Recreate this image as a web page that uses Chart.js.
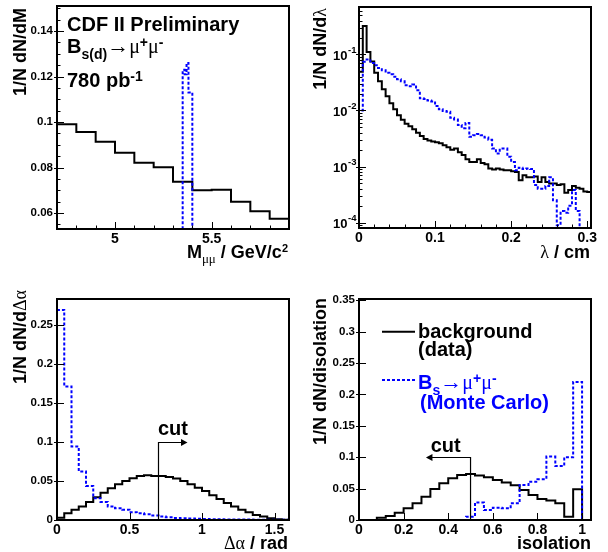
<!DOCTYPE html>
<html><head><meta charset="utf-8">
<script src="https://cdn.jsdelivr.net/npm/chart.js@4"></script>
<style>
body{margin:0;background:#fff}
#wrap{position:relative;width:608px;height:552px;overflow:hidden;background:#fff}
canvas{position:absolute;left:0;top:0}
.t{position:absolute;white-space:nowrap;line-height:1;font-weight:bold;font-family:'Liberation Sans',Arial,Helvetica,sans-serif;color:#000}
.f20{font-size:20px}.f18{font-size:18px}
.g{font-family:'Liberation Serif','DejaVu Serif',serif;font-weight:normal}
.sb{position:relative;top:6px;font-size:14px}
.sp{position:relative;top:-6px;font-size:14px}
.yt{width:220px;text-align:right;transform-origin:0 0;transform:translateY(220px) rotate(-90deg)}
.blue{color:#0000ff}
</style></head>
<body>
<div id="wrap">
<canvas id="c1" width="608" height="552"></canvas>
<canvas id="c2" width="608" height="552"></canvas>
<canvas id="c3" width="608" height="552"></canvas>
<canvas id="c4" width="608" height="552"></canvas>

<div class="t f20" style="left:67px;top:13.6px">CDF II Preliminary</div>
<div class="t f20" style="left:67px;top:34.8px">B<span class="sb">s(d)</span><span class="g" style="font-size:22px">→</span><span class="g">μ</span><span class="sp">+</span><span class="g">μ</span><span class="sp">-</span></div>
<div class="t f20" style="left:67px;top:69.8px">780 pb<span class="sp">-1</span></div>

<div class="t f18" style="right:320px;top:243.1px">M<span class="sb g" style="font-size:13px;top:5px">μμ</span> / GeV/c<span class="sp" style="font-size:11px;top:-6px">2</span></div>
<div class="t f18" style="right:18px;top:242.8px"><span class="g">λ</span> / cm</div>
<div class="t f18" style="right:320px;top:533.8px"><span class="g">Δα</span> / rad</div>
<div class="t f18" style="right:17px;top:533.8px">isolation</div>

<div class="t f18 yt" style="left:10.5px;top:8px">1/N dN/dM</div>
<div class="t f18 yt" style="left:311px;top:8px">1/N dN/d<span class="g">λ</span></div>
<div class="t f18 yt" style="left:11px;top:290px">1/N dN/d<span class="g">Δα</span></div>
<div class="t f18 yt" style="left:311px;top:298px">1/N dN/disolation</div>

<div class="t f20" style="left:418px;top:320.8px">background</div>
<div class="t f20" style="left:418px;top:339px">(data)</div>
<div class="t f20 blue" style="left:418px;top:371.4px">B<span class="sb">s</span><span class="g" style="font-size:22px">→</span><span class="g">μ</span><span class="sp">+</span><span class="g">μ</span><span class="sp">-</span></div>
<div class="t f20 blue" style="left:420px;top:392px">(Monte Carlo)</div>

<div class="t f20" style="left:158px;top:418px">cut</div>
<div class="t f20" style="left:430.7px;top:434.8px">cut</div>
</div>
<script>
// ---------- Panel 1: dimuon mass ----------
const massEdges = [4.7,4.8,4.9,5.0,5.1,5.2,5.3,5.4,5.5,5.6,5.7,5.8,5.9];
const massBackground = [0.0990,0.0956,0.0913,0.0865,0.0821,0.0801,0.0738,0.0700,0.0703,0.0650,0.0608,0.0575];
const massSignalEdges = [5.22,5.23,5.24,5.25,5.26,5.27,5.28,5.29,5.30,5.31,5.32,5.33,5.34,5.35,5.36,5.37,5.38,5.39,5.40,5.41,5.42,5.43,5.44,5.45,5.46,5.47,5.48,5.49];
const massSignal = [0,0,0,0,0,0,0,0,0,0,0,0,0, 0.123,0.121,0.126,0.113,0.113, 0,0,0,0,0,0,0,0,0];
const massXTicks = [5, 5.5];
const massYTicks = [0.06, 0.08, 0.1, 0.12, 0.14];

// ---------- Panel 2: decay length lambda ----------
const lambdaEdges = [0,0.005,0.01,0.015,0.02,0.025,0.03,0.035,0.04,0.045,0.05,0.055,0.06,0.065,0.07,0.075,0.08,0.085,0.09,0.095,0.1,0.105,0.11,0.115,0.12,0.125,0.13,0.135,0.14,0.145,0.15,0.155,0.16,0.165,0.17,0.175,0.18,0.185,0.19,0.195,0.2,0.205,0.21,0.215,0.22,0.225,0.23,0.235,0.24,0.245,0.25,0.255,0.26,0.265,0.27,0.275,0.28,0.285,0.29,0.295,0.3,0.305];
const lambdaBackground = [
 0.049,0.32,0.11,0.075,0.047,0.033,0.024,0.018,0.0135,0.0105,
 0.0082,0.0068,0.0058,0.0052,0.0046,0.0040,0.0035,0.0031,0.0029,0.0028,
 0.0027,0.0026,0.0024,0.0022,0.0020,0.0021,0.0018,0.0016,0.00135,0.0012,
 0.0012,0.00135,0.00116,0.0011,0.00092,0.00088,0.00092,0.00088,0.00086,0.00086,
 0.00082,0.0008,0.00057,0.0007,0.00064,0.00064,0.00066,0.00053,0.00064,0.00053,
 0.0005,0.0005,0.00047,0.00048,0.00034,0.00038,0.00045,0.00042,0.0004,0.00036,0.00035];
const lambdaSignal = [
 0.0100,0.074,0.081,0.070,0.064,0.057,0.052,0.047,0.044,0.040,
 0.036,0.033,0.028,0.027,0.029,0.023,0.0165,0.016,0.015,0.0145,
 0.012,0.0105,0.0098,0.0095,0.0074,0.0069,0.0055,0.0048,0.0060,0.0034,
 0.0036,0.0038,0.0036,0.0033,0.0030,0.0021,0.0017,0.0021,0.0021,0.0015,
 0.0012,0.00086,0.00095,0.0009,0.00092,0.0009,0.00047,0.0004,0.0004,0.00045,
 0.00064,0.00025,0.00009,0.00016,0.00015,0.0002,0.00038,0.00016,0,0,0];
const lambdaXTicks = [0, 0.1, 0.2, 0.3];
const lambdaYTicks = [1e-4, 1e-3, 1e-2, 1e-1];
const lambdaYExponents = ['-4', '-3', '-2', '-1'];

// ---------- Panel 3: pointing angle ----------
const alphaEdges = [0,0.05,0.1,0.15,0.2,0.25,0.3,0.35,0.4,0.45,0.5,0.55,0.6,0.65,0.7,0.75,0.8,0.85,0.9,0.95,1.0,1.05,1.1,1.15,1.2,1.25,1.3,1.35,1.4,1.45,1.5,1.55,1.6];
const alphaBackground = [0.003,0.0087,0.013,0.0174,0.023,0.029,0.0348,0.0405,0.0457,0.050,0.0535,0.0565,0.0574,0.0565,0.0565,0.0552,0.053,0.050,0.0457,0.0413,0.037,0.0318,0.027,0.0218,0.0174,0.013,0.010,0.0065,0.0044,0.0022,0.0009,0.0003];
const alphaSignal = [0.269,0.171,0.094,0.062,0.0435,0.028,0.023,0.0174,0.015,0.013,0.010,0.0087,0.0074,0.0057,0.0044,0.0035,0.0026,0.0022,0.0018,0.0015,0.0013,0.0011,0.0009,0.0008,0.0007,0.0006,0.0005,0.0004,0.0004,0.0003,0.0002,0.0002];
const alphaXTicks = [0, 0.5, 1, 1.5];
const alphaYTicks = [0, 0.05, 0.1, 0.15, 0.2, 0.25];
const alphaCut = [0.7, 0.1, 0.9];   // cut value, arrow height, arrow tip

// ---------- Panel 4: isolation ----------
const isoEdges = [0,0.04,0.08,0.12,0.16,0.2,0.24,0.28,0.32,0.36,0.4,0.44,0.48,0.52,0.56,0.6,0.64,0.68,0.72,0.76,0.8,0.84,0.88,0.92,0.96,1.0];
const isoBackground = [0,0,0.0037,0.0064,0.0117,0.0186,0.0266,0.0372,0.0495,0.0585,0.0665,0.0718,0.0734,0.0708,0.068,0.0638,0.0596,0.0553,0.0479,0.0399,0.0335,0.0309,0.0266,0.0053,0.049];
const isoSignal = [0,0,0,0,0,0,0,0,0,0,0,0,0.0053,0.028,0.016,0.0197,0.0186,0.0266,0.0559,0.061,0.065,0.101,0.086,0.100,0.220];
const isoXTicks = [0, 0.2, 0.4, 0.6, 0.8, 1];
const isoYTicks = [0, 0.05, 0.1, 0.15, 0.2, 0.25, 0.3, 0.35];
const isoCut = [0.5, 0.1, 0.3];

// ---------- helpers ----------
const BLACK = '#000000', BLUE = '#0000ff';
const CW = 608, CH = 552, AXW = 57, AXH = 30;
const FONT = "'Liberation Sans', Arial, Helvetica, sans-serif";
Chart.defaults.font.family = FONT;
Chart.defaults.font.weight = 'bold';
Chart.defaults.color = '#000';

function steps(a, b, s) { const out = []; for (let v = a; v <= b + 1e-9; v += s) out.push(+v.toFixed(6)); return out; }
function logMinors(lo, hi) { const out = []; for (let d = -6; d <= 1; d++) for (let m = 2; m <= 9; m++) { const v = m * Math.pow(10, d); if (v > lo && v < hi) out.push(v); } return out; }
const fmt = v => String(+(+v).toFixed(4));

function histPoints(edges, values, floor) {
  const pts = [{x: edges[0], y: floor}];
  values.forEach((v, i) => pts.push({x: edges[i], y: Math.max(v, floor)}));
  pts.push({x: edges[values.length], y: floor});
  return pts;
}
function histo(edges, values, floor, color, dashed) {
  return {
    data: histPoints(edges, values, floor),
    borderColor: color, borderWidth: 2, borderDash: dashed ? [3, 2] : [],
    pointRadius: 0, stepped: 'before', fill: false, tension: 0,
    borderCapStyle: 'butt', borderJoinStyle: 'miter'
  };
}

const rootAxes = {
  id: 'rootAxes',
  afterDatasetsDraw(chart, args, o) {
    const {ctx, chartArea: a} = chart;
    const xs = chart.scales.x, ys = chart.scales.y;
    ctx.save();
    ctx.setLineDash([]);
    ctx.strokeStyle = '#000'; ctx.fillStyle = '#000';
    ctx.lineWidth = 1;
    ctx.beginPath();
    const xTick = (v, len) => { const p = Math.round(xs.getPixelForValue(v)) + 0.5; ctx.moveTo(p, a.bottom); ctx.lineTo(p, a.bottom - len); };
    const yTick = (v, inL, outL) => { const p = Math.round(ys.getPixelForValue(v)) + 0.5; ctx.moveTo(a.left - outL, p); ctx.lineTo(a.left + inL, p); };
    (o.xMajor || []).forEach(v => xTick(v, 7));
    (o.xMinor || []).forEach(v => xTick(v, 3.5));
    (o.yMajor || []).forEach(v => yTick(v, 7, 3));
    (o.yMinor || []).forEach(v => yTick(v, 3.5, 0));
    ctx.stroke();
    ctx.lineWidth = 2;
    ctx.strokeRect(a.left, a.top, a.right - a.left, a.bottom - a.top);
    if (o.powerLabels) {
      const R = a.left - 2.5;
      ctx.textAlign = 'left'; ctx.textBaseline = 'alphabetic';
      o.powerLabels.values.forEach((v, i) => {
        const py = ys.getPixelForValue(v);
        const ex = o.powerLabels.exponents[i];
        ctx.font = 'bold 9.5px ' + FONT;
        const ew = ctx.measureText(ex).width;
        ctx.fillText(ex, R - ew, py - 1.5);
        ctx.font = 'bold 13px ' + FONT;
        const bw = ctx.measureText('10').width;
        ctx.fillText('10', R - ew - bw - 0.5, py + 5.5);
      });
    }
    if (o.cut) {
      const c = o.cut;
      const x0 = xs.getPixelForValue(c[0]), yT = Math.round(ys.getPixelForValue(c[1])) + 0.5, x1 = xs.getPixelForValue(c[2]);
      const dir = Math.sign(x1 - x0);
      ctx.lineWidth = 1.2;
      ctx.beginPath(); ctx.moveTo(x0, a.bottom); ctx.lineTo(x0, yT); ctx.lineTo(x1 - dir * 4, yT); ctx.stroke();
      ctx.beginPath(); ctx.moveTo(x1, yT); ctx.lineTo(x1 - dir * 6.5, yT - 3.5); ctx.lineTo(x1 - dir * 6.5, yT + 3.5); ctx.closePath(); ctx.fill();
    }
    if (o.legend) {
      ctx.lineWidth = 2;
      o.legend.forEach(it => {
        ctx.strokeStyle = it.color; ctx.setLineDash(it.dash);
        ctx.beginPath(); ctx.moveTo(a.left + 23, a.top + it.dy); ctx.lineTo(a.left + 56, a.top + it.dy); ctx.stroke();
      });
    }
    ctx.restore();
  }
};

function panel(id, frame, xs, ys, datasets, extra) {
  const xScale = {
    type: 'linear', min: xs.min, max: xs.max,
    grid: {display: false, drawTicks: false}, border: {display: false},
    ticks: {font: {size: 14, weight: 'bold'}, padding: 2, autoSkip: false, maxRotation: 0, callback: v => fmt(v)},
    afterBuildTicks: s => { s.ticks = xs.ticks.map(v => ({value: v})); },
    afterFit: s => { s.height = AXH; s.paddingLeft = 0; s.paddingRight = 0; }
  };
  const yScale = {
    type: ys.log ? 'logarithmic' : 'linear', min: ys.min, max: ys.max,
    grid: {display: false, drawTicks: false}, border: {display: false},
    ticks: {display: !ys.log, font: {size: 11.5, weight: 'bold'}, padding: 4, autoSkip: false, callback: v => fmt(v)},
    afterBuildTicks: s => { s.ticks = ys.ticks.map(v => ({value: v})); },
    afterFit: s => { s.width = AXW; s.paddingTop = 0; s.paddingBottom = 0; }
  };
  return new Chart(document.getElementById(id), {
    type: 'line',
    data: {datasets},
    options: {
      responsive: false, animation: false, devicePixelRatio: 1, events: [],
      layout: {padding: {left: frame.l - AXW, right: CW - frame.r, top: frame.t, bottom: CH - frame.b - AXH}},
      plugins: {legend: {display: false}, tooltip: {enabled: false}, rootAxes: extra},
      scales: {x: xScale, y: yScale}
    },
    plugins: [rootAxes]
  });
}

// Panel 1
panel('c1', {l: 57, r: 289, t: 6, b: 229},
  {min: 4.7, max: 5.9, ticks: massXTicks},
  {min: 0.053, max: 0.151, ticks: massYTicks},
  [histo(massSignalEdges, massSignal, 0.053, BLUE, true), histo(massEdges, massBackground, 0.053, BLACK, false)],
  {xMajor: massXTicks, xMinor: steps(4.7, 5.9, 0.1), yMajor: massYTicks, yMinor: steps(0.055, 0.15, 0.005)});

// Panel 2
panel('c2', {l: 359, r: 591, t: 7, b: 228},
  {min: 0, max: 0.305, ticks: lambdaXTicks},
  {log: true, min: 8e-5, max: 0.7, ticks: lambdaYTicks},
  [histo(lambdaEdges, lambdaSignal, 8e-5, BLUE, true), histo(lambdaEdges, lambdaBackground, 8e-5, BLACK, false)],
  {xMajor: lambdaXTicks, xMinor: steps(0, 0.3, 0.02), yMajor: lambdaYTicks, yMinor: logMinors(8e-5, 0.7),
   powerLabels: {values: lambdaYTicks, exponents: lambdaYExponents}});

// Panel 3
panel('c3', {l: 57, r: 289, t: 299, b: 520},
  {min: 0, max: 1.6, ticks: alphaXTicks},
  {min: 0, max: 0.283, ticks: alphaYTicks},
  [histo(alphaEdges, alphaSignal, 0, BLUE, true), histo(alphaEdges, alphaBackground, 0, BLACK, false)],
  {xMajor: alphaXTicks, yMajor: alphaYTicks, cut: alphaCut});

// Panel 4
panel('c4', {l: 359, r: 591, t: 299, b: 520},
  {min: 0, max: 1.04, ticks: isoXTicks},
  {min: 0, max: 0.352, ticks: isoYTicks},
  [histo(isoEdges, isoSignal, 0, BLUE, true), histo(isoEdges, isoBackground, 0, BLACK, false)],
  {xMajor: isoXTicks, yMajor: isoYTicks, cut: isoCut,
   legend: [{color: BLACK, dash: [], dy: 32.7}, {color: BLUE, dash: [3, 2], dy: 81}]});
</script>
</body></html>
